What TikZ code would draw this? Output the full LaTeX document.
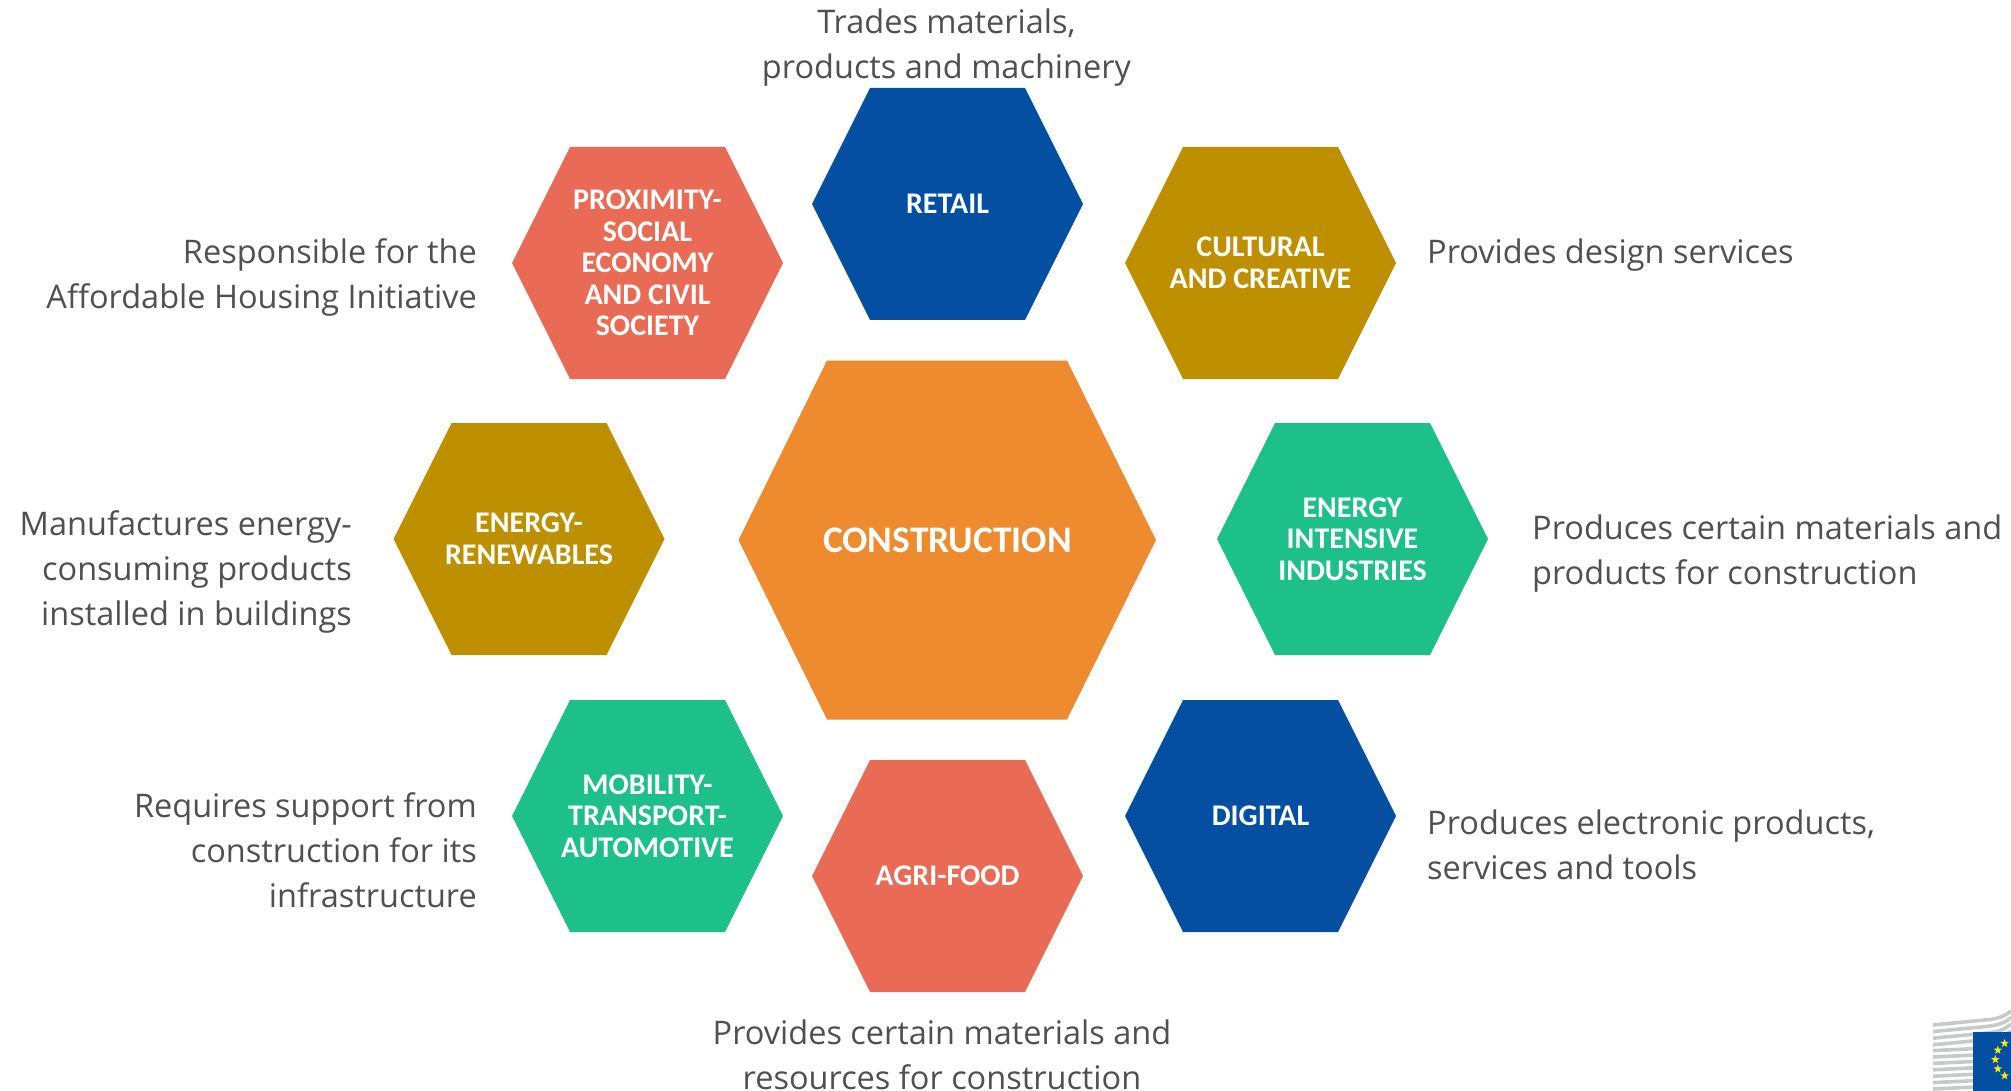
\documentclass[tikz,border=0pt]{standalone}
\usepackage{fontspec}
\setmainfont{Open Sans}
\newfontfamily\hexfont{Carlito}[BoldFont={Carlito Bold}]
\usetikzlibrary{shapes.geometric}
\definecolor{cblue}{HTML}{054FA3}
\definecolor{cred}{HTML}{E96B55}
\definecolor{cgold}{HTML}{BE9000}
\definecolor{cgreen}{HTML}{1EC089}
\definecolor{corange}{HTML}{EE8B2F}
\definecolor{ctext}{HTML}{505050}
\definecolor{cgrey}{HTML}{C8CACA}
\definecolor{cstar}{HTML}{FFED00}
\tikzset{
  x=1pt,y=-1pt,
  hexlabel/.style={text=white,align=center,inner sep=0pt,
    font=\hexfont\bfseries\fontsize{30}{31.5}\selectfont},
  desc/.style={text=ctext,inner sep=0pt,font=\fontsize{32.5}{45}\selectfont},
  descl/.style={desc,align=right,anchor=east},
  descr/.style={desc,align=left,anchor=west},
  descc/.style={desc,align=center},
  logostripe/.style={cgrey,line width=3.6pt},
  euflag/.style={star,star points=5,star point ratio=2.5,fill=cstar,inner sep=0pt,minimum size=9pt}
}
% #1 name, #2 cx, #3 cy, #4 colour, #5 text
\newcommand{\hexa}[5]{%
  \fill[#4] (#2-135.5,#3) -- (#2-77.5,#3-116) -- (#2+77.5,#3-116) -- (#2+135.5,#3)
    -- (#2+77.5,#3+116) -- (#2-77.5,#3+116) -- cycle;
  \node[hexlabel] (#1) at (#2,#3) {#5};}
\begin{document}
\begin{tikzpicture}
\useasboundingbox (0,0) rectangle (2011,1091);
\hexa{retail}{947.5}{204}{cblue}{RETAIL}
\hexa{prox}{647.5}{263}{cred}{PROXIMITY-\\SOCIAL\\ECONOMY\\AND CIVIL\\SOCIETY}
\hexa{cult}{1260.5}{263}{cgold}{CULTURAL\\AND CREATIVE}
\hexa{renew}{529}{539}{cgold}{ENERGY-\\RENEWABLES}
\hexa{intens}{1352.5}{539}{cgreen}{ENERGY\\INTENSIVE\\INDUSTRIES}
\hexa{mob}{647.5}{816}{cgreen}{MOBILITY-\\TRANSPORT-\\AUTOMOTIVE}
\hexa{digi}{1260.5}{816}{cblue}{DIGITAL}
\hexa{agri}{947.5}{876}{cred}{AGRI-FOOD}
\fill[corange] (738.5,540) -- (827,360.5) -- (1067,360.5) -- (1156,540)
  -- (1067,719.5) -- (827,719.5) -- cycle;
\node[hexlabel,font=\hexfont\bfseries\fontsize{37.5}{40}\selectfont] (con) at (947.5,540) {CONSTRUCTION};

\node[descc] (d1) at (946.5,48) {Trades materials,\\products and machinery};
\node[descl] (d2) at (477,277) {Responsible for the\\Affordable Housing Initiative};
\node[descr] (d3) at (1427,255) {Provides design services};
\node[descl] (d4) at (352,572) {Manufactures energy-\\consuming products\\installed in buildings};
\node[descr] (d5) at (1532,554) {Produces certain materials and\\products for construction};
\node[descl] (d6) at (477,850) {Requires support from\\construction for its\\infrastructure};
\node[descr] (d7) at (1427,844.5) {Produces electronic products,\\services and tools};
\node[descc] (d8) at (942,1055) {Provides certain materials and\\resources for construction};

% logo
\begin{scope}
\clip (0,0) rectangle (2011,1091);
\foreach \y in {0,...,3} {
  \draw[logostripe] (1933,{1025+\y*6.6}) -- (1985,{1020+\y*6.6}) .. controls (1998,{1019+\y*6.6}) and (2005,{1016+\y*6.6}) .. (2011,{1011+\y*6.6});
}
\foreach \y in {4,...,10} \draw[logostripe] (1933,{1025+\y*6.4}) -- (1975,{1023+\y*6.4});
\fill[cblue] (1972.5,1032) rectangle (2011,1091);
\foreach \a in {120,150,180,210,240} {
  \node[euflag] (s\a) at ({2014+18.7*cos(\a)},{1059.5+18.7*sin(\a)}) {};
}
\end{scope}
\end{tikzpicture}
\end{document}
